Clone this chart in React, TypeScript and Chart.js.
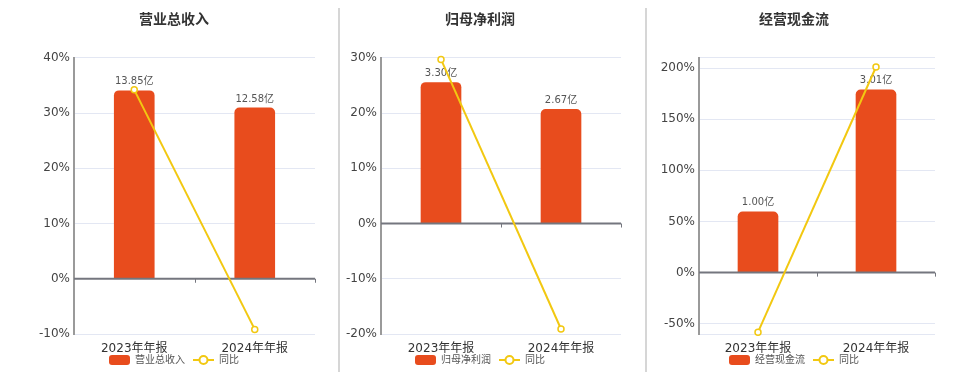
import React, { useEffect, useRef } from 'react';
import { Chart, registerables } from 'chart.js';

Chart.register(...registerables);

// ---- data ----
const categories = ['2023年年报', '2024年年报'];
const panelTitles = ['营业总收入', '归母净利润', '经营现金流'];
const yoyLabel = '同比';
const unit = '亿';

const revenueValues = [13.85, 12.58];
const revenueYoY = [34.2, -9.17];
const profitValues = [3.3, 2.67];
const profitYoY = [29.7, -19.09];
const cashflowValues = [1.0, 3.01];
const cashflowYoY = [-58.2, 201];

const revenueTicks = [-10, 0, 10, 20, 30, 40];
const profitTicks = [-20, -10, 0, 10, 20, 30];
const cashflowTicks = [-60, -50, 0, 50, 100, 150, 200, 210];
const labelSteps = [10, 10, 50];

// ---- styles ----
const FONT = '"DejaVu Sans", "Noto Sans CJK SC", sans-serif';
const BAR_COLOR = '#e84c1d';
const LINE_COLOR = '#f2c811';
const GRID_COLOR = '#e3e7f3';
const ZERO_COLOR = '#74767e';
const AXIS_COLOR = '#9a9a9a';

const CANVAS_W = 284;
const CANVAS_H = 372;
const panelLayout = [
  { left: 33, yAxisWidth: 41 },
  { left: 339, yAxisWidth: 42 },
  { left: 653, yAxisWidth: 46 },
];

const barValuesList = [revenueValues, profitValues, cashflowValues];
const yoyList = [revenueYoY, profitYoY, cashflowYoY];
const tickList = [revenueTicks, profitTicks, cashflowTicks];

const decorPlugin = {
  id: 'decor',
  afterDatasetDraw(chart: any, args: any) {
    if (args.index !== 0) return;
    const { ctx, chartArea } = chart;
    const ys = chart.scales.y;
    const xs = chart.scales.x;
    const y0 = ys.getPixelForValue(0);
    ctx.save();
    ctx.strokeStyle = ZERO_COLOR;
    ctx.lineWidth = 2;
    ctx.beginPath();
    ctx.moveTo(chartArea.left, y0);
    ctx.lineTo(chartArea.right, y0);
    ctx.stroke();
    ctx.lineWidth = 1;
    const n = chart.data.labels.length;
    for (let i = 1; i <= n; i++) {
      const bx = i < n ? (xs.getPixelForValue(i - 1) + xs.getPixelForValue(i)) / 2 : xs.right - 0.5;
      ctx.beginPath();
      ctx.moveTo(Math.round(bx) + 0.5, y0);
      ctx.lineTo(Math.round(bx) + 0.5, y0 + 4);
      ctx.stroke();
    }
    // data labels
    const meta = chart.getDatasetMeta(0);
    const values = chart.data.datasets[0].data;
    ctx.fillStyle = '#555';
    ctx.font = '10px ' + FONT;
    ctx.textAlign = 'center';
    ctx.textBaseline = 'bottom';
    meta.data.forEach((bar: any, i: number) => {
      ctx.fillText(Number(values[i]).toFixed(2) + unit, bar.x, bar.y - 4);
    });
    ctx.restore();
  },
  afterDraw(chart: any) {
    const { ctx } = chart;
    const barLabel = chart.data.datasets[0].label;
    const lineLabel = chart.data.datasets[1].label;
    ctx.save();
    ctx.font = '10px ' + FONT;
    const symW = 21;
    const gap = 5;
    const itemGap = 8;
    const w1 = ctx.measureText(barLabel).width;
    const w2 = ctx.measureText(lineLabel).width;
    const total = symW + gap + w1 + itemGap + symW + gap + w2;
    const cx = (chart.width - 2) / 2;
    let x = cx - total / 2;
    const y = chart.height - 12;
    ctx.fillStyle = BAR_COLOR;
    ctx.beginPath();
    (ctx as any).roundRect(x, y - 5, symW, 10, 3);
    ctx.fill();
    x += symW + gap;
    ctx.fillStyle = '#555';
    ctx.textBaseline = 'middle';
    ctx.textAlign = 'left';
    ctx.fillText(barLabel, x, y);
    x += w1 + itemGap;
    ctx.strokeStyle = LINE_COLOR;
    ctx.lineWidth = 2;
    ctx.beginPath();
    ctx.moveTo(x, y);
    ctx.lineTo(x + symW, y);
    ctx.stroke();
    ctx.beginPath();
    ctx.arc(x + symW / 2, y, 4, 0, Math.PI * 2);
    ctx.fillStyle = '#fff';
    ctx.fill();
    ctx.stroke();
    x += symW + gap;
    ctx.fillStyle = '#555';
    ctx.fillText(lineLabel, x, y);
    ctx.restore();
  },
};

function Panel({ idx }: { idx: number }) {
  const ref = useRef<HTMLCanvasElement>(null);
  useEffect(() => {
    const bars = barValuesList[idx];
    const yoy = yoyList[idx];
    const ticks = tickList[idx];
    const step = labelSteps[idx];
    const yMin = ticks[0];
    const yMax = ticks[ticks.length - 1];
    const barMax = Math.max(...bars) * 1.175;
    const barMin = (barMax * yMin) / yMax;
    const layout = panelLayout[idx];
    const chart = new Chart(ref.current as HTMLCanvasElement, {
      type: 'bar',
      data: {
        labels: categories,
        datasets: [
          {
            type: 'bar',
            label: panelTitles[idx],
            data: bars,
            yAxisID: 'y1',
            backgroundColor: BAR_COLOR,
            barThickness: 40,
            borderRadius: { topLeft: 5, topRight: 5, bottomLeft: 0, bottomRight: 0 },
            borderSkipped: 'start',
            order: 1,
          } as any,
          {
            type: 'line',
            label: yoyLabel,
            data: yoy,
            yAxisID: 'y',
            borderColor: LINE_COLOR,
            borderWidth: 2,
            pointRadius: 3,
            pointBorderWidth: 1.5,
            pointBackgroundColor: '#fff',
            pointBorderColor: LINE_COLOR,
            tension: 0,
            clip: false,
            order: 0,
          } as any,
        ],
      },
      options: {
        animation: false,
        responsive: false,
        events: [],
        layout: { autoPadding: false, padding: { top: 0, right: 2, bottom: 0, left: 0 } },
        plugins: {
          legend: { display: false },
          tooltip: { enabled: false },
          title: {
            display: true,
            text: panelTitles[idx],
            color: '#333',
            font: { family: FONT, size: 14, weight: 'bold' },
            padding: { top: 12, bottom: 29 },
          },
        },
        scales: {
          x: {
            offset: true,
            grid: { display: false, drawTicks: false },
            border: { display: false },
            ticks: { color: '#333', font: { family: FONT, size: 12 }, padding: 8, maxRotation: 0 },
            afterFit: (s: any) => {
              s.height = 38;
            },
          },
          y: {
            min: yMin,
            max: yMax,
            afterBuildTicks: (s: any) => {
              s.ticks = ticks.map((v) => ({ value: v }));
            },
            grid: {
              drawTicks: false,
              color: (c: any) => (c.tick && c.tick.value === 0 ? 'rgba(0,0,0,0)' : GRID_COLOR),
              lineWidth: 1,
            },
            border: { display: true, color: AXIS_COLOR, width: 2 },
            ticks: {
              color: '#444',
              font: { family: FONT, size: 12 },
              padding: 4,
              callback: (v: any) => (Number(v) % step === 0 ? v + '%' : ''),
            },
            afterFit: (s: any) => {
              s.width = layout.yAxisWidth;
            },
          },
          y1: {
            display: false,
            min: barMin,
            max: barMax,
          },
        },
      } as any,
      plugins: [decorPlugin],
    });
    return () => chart.destroy();
  }, [idx]);
  const layout = panelLayout[idx];
  return (
    <canvas
      ref={ref}
      width={CANVAS_W}
      height={CANVAS_H}
      style={{ position: 'absolute', left: layout.left, top: 0, width: CANVAS_W, height: CANVAS_H }}
    />
  );
}

export default function App() {
  return (
    <div
      style={{
        position: 'fixed',
        left: 0,
        top: 0,
        width: 960,
        height: 372,
        background: '#fff',
        overflow: 'hidden',
      }}
    >
      <div style={{ position: 'absolute', left: 338, top: 8, width: 2, height: 364, background: '#d6d6d6' }} />
      <div style={{ position: 'absolute', left: 645, top: 8, width: 2, height: 364, background: '#d6d6d6' }} />
      <Panel idx={0} />
      <Panel idx={1} />
      <Panel idx={2} />
    </div>
  );
}
